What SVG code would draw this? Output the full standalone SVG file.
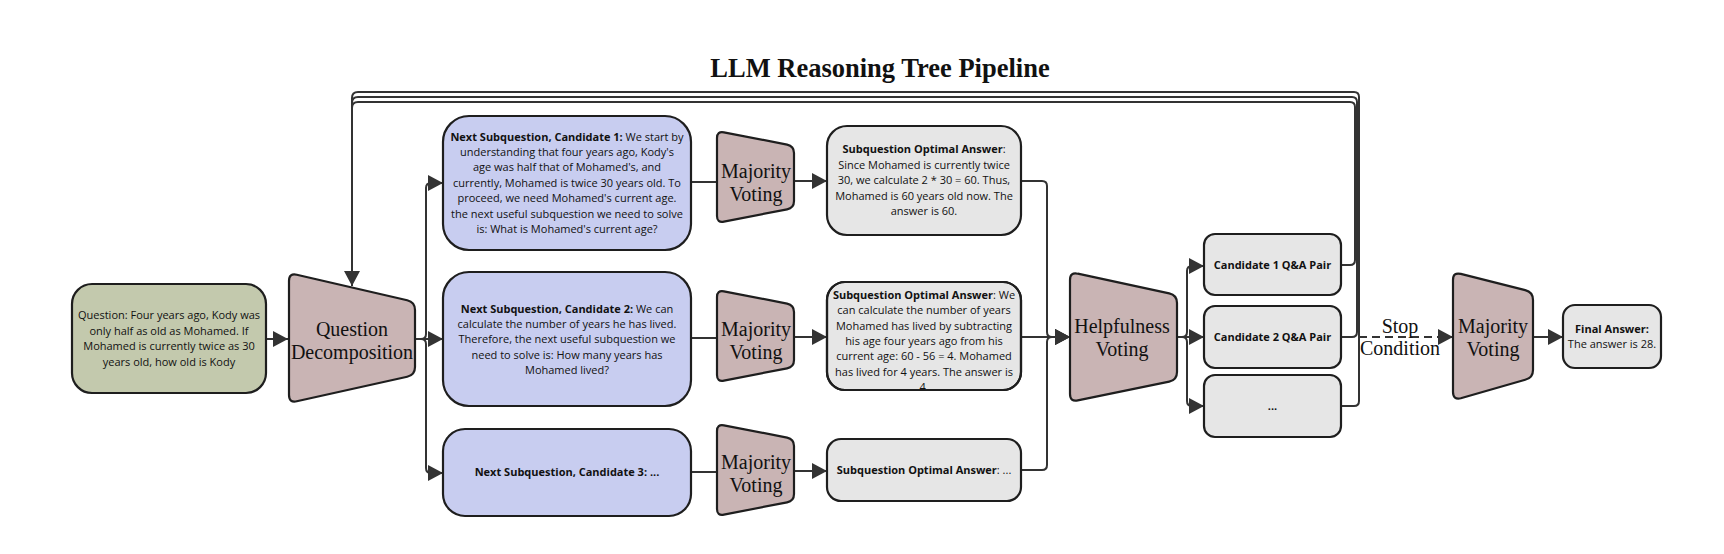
<svg xmlns="http://www.w3.org/2000/svg" width="1724" height="554" viewBox="0 0 1724 554">
<style>
.bg{fill:#ffffff}
.trap{fill:#c9b4b4;stroke:#1e1e1e;stroke-width:2.2;stroke-linejoin:round}
.green{fill:#c3c9ad;stroke:#1e1e1e;stroke-width:2.2}
.blue{fill:#c8cdf0;stroke:#1e1e1e;stroke-width:2.2}
.gray{fill:#e6e6e6;stroke:#1e1e1e;stroke-width:2.2}
.t{font-family:"Open Sans","Liberation Sans",sans-serif;font-size:11px;fill:#111;text-anchor:middle}
.b{font-weight:700}
.s{font-family:"Liberation Serif","Times New Roman",serif;font-size:20px;fill:#111;text-anchor:middle}
.title{font-family:"Liberation Serif","Times New Roman",serif;font-size:26.5px;font-weight:700;fill:#111;text-anchor:middle}
.c{fill:none;stroke:#333;stroke-width:2}
.a{marker-end:url(#arr)}
.d{stroke-dasharray:8 5}
</style>
<defs>
<marker id="arr" markerUnits="userSpaceOnUse" markerWidth="15" markerHeight="16" refX="15" refY="8" orient="auto">
<path d="M0,0 L15,8 L0,16 Z" fill="#333"/>
</marker>
<path id="mv" d="M6.9,1.3 L70.1,13.6 Q77,15 77,22 L77,70 Q77,77 70.1,78.3 L6.9,90.7 Q0,92 0,85 L0,7 Q0,0 6.9,1.3 Z"/>
<clipPath id="clipA2"><rect x="827" y="282" width="194" height="108" rx="18"/></clipPath>
</defs>
<rect class="bg" x="0" y="0" width="1724" height="554"/>
<text class="title" x="880" y="77">LLM Reasoning Tree Pipeline</text>

<g id="connectors">
<path class="c a" d="M266,339 H288"/>
<path class="c a" d="M415,339 H421 Q426,339 426,334 V188 Q426,183 431,183 H443"/>
<path class="c a" d="M415,339 H443"/>
<path class="c a" d="M415,339 H421 Q426,339 426,344 V468 Q426,473 431,473 H443"/>
<path class="c" d="M691,182 H717"/>
<path class="c" d="M691,338 H717"/>
<path class="c" d="M691,472 H717"/>
<path class="c a" d="M794,181 H827"/>
<path class="c a" d="M794,337 H827"/>
<path class="c a" d="M794,471 H827"/>
<path class="c a" d="M1021,181 H1042 Q1047,181 1047,186 V332 Q1047,337 1052,337 H1070"/>
<path class="c a" d="M1021,337 H1070"/>
<path class="c a" d="M1021,470 H1042 Q1047,470 1047,465 V342 Q1047,337 1052,337 H1070"/>
<path class="c a" d="M1177,337 H1182 Q1187,337 1187,332 V271 Q1187,266 1192,266 H1204"/>
<path class="c a" d="M1177,337 H1204"/>
<path class="c a" d="M1177,337 H1182 Q1187,337 1187,342 V401 Q1187,406 1192,406 H1204"/>
<path class="c" d="M1341,265 H1350 Q1355,265 1355,260 V107 Q1355,102 1350,102 H358 Q352,102 352,108 V286"/>
<path class="c" d="M1341,337 H1352 Q1357,337 1357,332 V102 Q1357,97 1352,97 H358 Q352,97 352,103 V286"/>
<path class="c a" d="M1341,406 H1354 Q1359,406 1359,401 V97 Q1359,92 1354,92 H358 Q352,92 352,98 V286"/>
<path class="c d a" d="M1359,337 H1453"/>
<path class="c a" d="M1533,337 H1563"/>
<text class="s" x="1400" y="333">Stop</text>
<text class="s" x="1400" y="355">Condition</text>
</g>

<g id="question">
<rect class="green" x="72" y="284" width="194" height="109" rx="20"/>
<text class="t" x="169" y="319">Question: Four years ago, Kody was</text>
<text class="t" x="169" y="335">only half as old as Mohamed. If</text>
<text class="t" x="169" y="350">Mohamed is currently twice as 30</text>
<text class="t" x="169" y="366">years old, how old is Kody</text>
</g>

<g id="question-decomposition">
<path class="trap" d="M296.8,274.8 L407.2,300.2 Q415,302 415,310 L415,367 Q415,375 407.2,376.7 L296.8,401.3 Q289,403 289,395 L289,281 Q289,273 296.8,274.8 Z"/>
<text class="s" x="352" y="336">Question</text>
<text class="s" x="352" y="359">Decomposition</text>
</g>

<g id="candidate-1">
<rect class="blue" x="443" y="116" width="248" height="134" rx="26"/>
<text class="t" x="567" y="141"><tspan class="b">Next Subquestion, Candidate 1:</tspan> We start by</text>
<text class="t" x="567" y="156">understanding that four years ago, Kody's</text>
<text class="t" x="567" y="171">age was half that of Mohamed's, and</text>
<text class="t" x="567" y="187">currently, Mohamed is twice 30 years old. To</text>
<text class="t" x="567" y="202">proceed, we need Mohamed's current age.</text>
<text class="t" x="567" y="218">the next useful subquestion we need to solve</text>
<text class="t" x="567" y="233">is: What is Mohamed's current age?</text>
</g>

<g id="candidate-2">
<rect class="blue" x="443" y="272" width="248" height="134" rx="26"/>
<text class="t" x="567" y="313"><tspan class="b">Next Subquestion, Candidate 2:</tspan> We can</text>
<text class="t" x="567" y="328">calculate the number of years he has lived.</text>
<text class="t" x="567" y="343">Therefore, the next useful subquestion we</text>
<text class="t" x="567" y="359">need to solve is: How many years has</text>
<text class="t" x="567" y="374">Mohamed lived?</text>
</g>

<g id="candidate-3">
<rect class="blue" x="443" y="429" width="248" height="87" rx="22"/>
<text class="t b" x="567" y="476">Next Subquestion, Candidate 3: ...</text>
</g>

<g id="majority-voting-1">
<use href="#mv" class="trap" x="717" y="131"/>
<text class="s" x="756" y="178">Majority</text>
<text class="s" x="756" y="201">Voting</text>
</g>
<g id="majority-voting-2">
<use href="#mv" class="trap" x="717" y="290"/>
<text class="s" x="756" y="336">Majority</text>
<text class="s" x="756" y="359">Voting</text>
</g>
<g id="majority-voting-3">
<use href="#mv" class="trap" x="717" y="424"/>
<text class="s" x="756" y="469">Majority</text>
<text class="s" x="756" y="492">Voting</text>
</g>

<g id="answer-1">
<rect class="gray" x="827" y="126" width="194" height="109" rx="20"/>
<text class="t" x="924" y="153"><tspan class="b">Subquestion Optimal Answer</tspan>:</text>
<text class="t" x="924" y="169">Since Mohamed is currently twice</text>
<text class="t" x="924" y="184">30, we calculate 2 * 30 = 60. Thus,</text>
<text class="t" x="924" y="200">Mohamed is 60 years old now. The</text>
<text class="t" x="924" y="215">answer is 60.</text>
</g>

<g id="answer-2">
<rect class="gray" x="827" y="282" width="194" height="108" rx="18"/>
<g clip-path="url(#clipA2)">
<text class="t" x="924" y="299"><tspan class="b">Subquestion Optimal Answer</tspan>: We</text>
<text class="t" x="924" y="314">can calculate the number of years</text>
<text class="t" x="924" y="330">Mohamed has lived by subtracting</text>
<text class="t" x="924" y="345">his age four years ago from his</text>
<text class="t" x="924" y="360">current age: 60 - 56 = 4. Mohamed</text>
<text class="t" x="924" y="376">has lived for 4 years. The answer is</text>
<text class="t" x="924" y="391">4.</text>
</g>
<rect x="827" y="282" width="194" height="108" rx="18" fill="none" stroke="#1e1e1e" stroke-width="2.2"/>
</g>

<g id="answer-3">
<rect class="gray" x="827" y="439" width="194" height="62" rx="14"/>
<text class="t" x="924" y="474"><tspan class="b">Subquestion Optimal Answer</tspan>: ...</text>
</g>

<g id="helpfulness-voting">
<path class="trap" d="M1077.8,273.7 L1169.2,293.3 Q1177,295 1177,303 L1177,372 Q1177,380 1169.2,381.6 L1077.8,400.4 Q1070,402 1070,394 L1070,280 Q1070,272 1077.8,273.7 Z"/>
<text class="s" x="1122" y="333">Helpfulness</text>
<text class="s" x="1122" y="356">Voting</text>
</g>

<g id="qa-1">
<rect class="gray" x="1204" y="234" width="137" height="61" rx="11"/>
<text class="t b" x="1272.5" y="269">Candidate 1 Q&amp;A Pair</text>
</g>
<g id="qa-2">
<rect class="gray" x="1204" y="306" width="137" height="62" rx="11"/>
<text class="t b" x="1272.5" y="341">Candidate 2 Q&amp;A Pair</text>
</g>
<g id="qa-3">
<rect class="gray" x="1204" y="375" width="137" height="62" rx="11"/>
<text class="t b" x="1272.5" y="410">...</text>
</g>

<g id="majority-voting-final">
<path class="trap" d="M1460.8,273.9 L1525.2,290.1 Q1533,292 1533,300 L1533,370 Q1533,378 1525.2,379.7 L1460.8,398.3 Q1453,400 1453,392 L1453,280 Q1453,272 1460.8,273.9 Z"/>
<text class="s" x="1493" y="333">Majority</text>
<text class="s" x="1493" y="356">Voting</text>
</g>

<g id="final-answer">
<rect class="gray" x="1563" y="305" width="98" height="63" rx="12"/>
<text class="t b" x="1612" y="333">Final Answer:</text>
<text class="t" x="1612" y="348">The answer is 28.</text>
</g>
</svg>
